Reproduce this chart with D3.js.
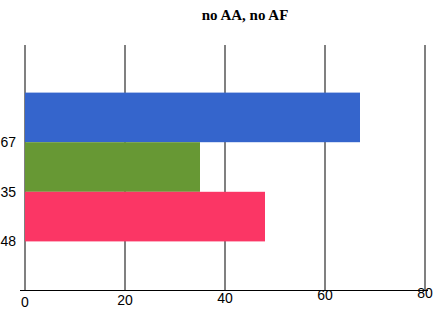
<!DOCTYPE html>
<html>
<head>
<meta charset="utf-8">
<script src="https://cdn.jsdelivr.net/npm/d3@7"></script>
<style>
  body { margin: 0; background: #fff; }
</style>
</head>
<body>
<div id="chart-area"></div>
<script>
// chart data
var title = "no AA, no AF";
var categories = ["67", "35", "48"];
var values = [67, 35, 48];
var colors = ["#3565cc", "#679834", "#fb3665"];
var xTicks = [0, 20, 40, 60, 80];

var width = 443, height = 311;

var svg = d3.select("#chart-area").append("svg")
	.attr("width", width)
	.attr("height", height);

var x = d3.scaleLinear()
	.domain([0, 80])
	.range([25, 425]);

var y = d3.scaleBand()
	.domain(categories)
	.range([43, 291])
	.paddingInner(0)
	.paddingOuter(1);

// title
svg.append("text")
	.attr("x", 245)
	.attr("y", 20)
	.attr("text-anchor", "middle")
	.style("font-family", "'Liberation Serif', 'Times New Roman', serif")
	.style("font-weight", "bold")
	.style("font-size", "15px")
	.text(title);

// vertical grid lines
svg.selectAll("line.grid")
	.data(xTicks)
	.enter()
	.append("line")
		.attr("class", "grid")
		.attr("x1", function(d){ return x(d); })
		.attr("x2", function(d){ return x(d); })
		.attr("y1", 45)
		.attr("y2", 290)
		.style("stroke", "#808080")
		.style("stroke-width", 2);

// bars
svg.selectAll("rect")
	.data(values)
	.enter()
	.append("rect")
		.attr("x", x(0))
		.attr("y", function(d, i){ return y(categories[i]); })
		.attr("width", function(d){ return x(d) - x(0); })
		.attr("height", y.bandwidth())
		.style("fill", function(d, i){ return colors[i]; });

// x axis line
svg.append("line")
	.attr("x1", 20)
	.attr("x2", 428)
	.attr("y1", 290.5)
	.attr("y2", 290.5)
	.style("stroke", "#000")
	.style("stroke-width", 1);

// x tick labels (slightly tilted baseline as in the original)
svg.selectAll("text.xlab")
	.data(xTicks)
	.enter()
	.append("text")
		.attr("class", "xlab")
		.attr("x", function(d){ return x(d); })
		.attr("y", function(d){ return 307 - 0.022 * (x(d) - x(0)); })
		.attr("text-anchor", "middle")
		.style("font-family", "'Liberation Sans', Arial, sans-serif")
		.style("font-size", "14px")
		.text(function(d){ return d; });

// y labels at the bottom edge of each band
svg.selectAll("text.ylab")
	.data(categories)
	.enter()
	.append("text")
		.attr("class", "ylab")
		.attr("x", 16)
		.attr("y", function(d){ return y(d) + y.bandwidth() + 5; })
		.attr("text-anchor", "end")
		.style("font-family", "'Liberation Sans', Arial, sans-serif")
		.style("font-size", "14px")
		.text(function(d){ return d; });
</script>
</body>
</html>
